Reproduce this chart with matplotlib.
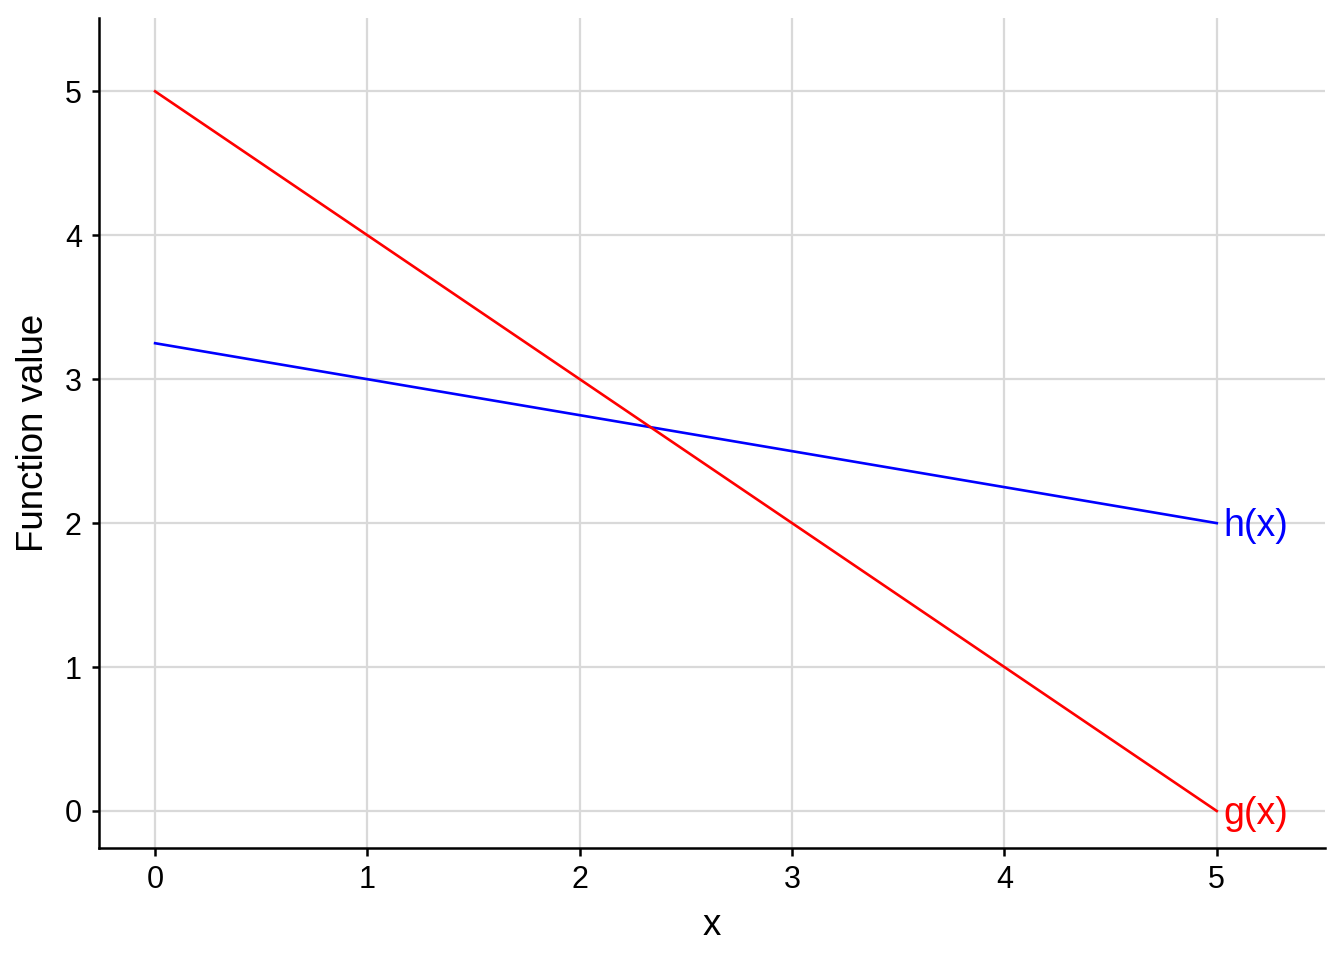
import matplotlib.pyplot as plt

plt.rcParams['font.family'] = ['Liberation Sans', 'DejaVu Sans']

# --- Data ---
x = [0, 1, 2, 3, 4, 5]
g = [5, 4, 3, 2, 1, 0]
h = [3.25, 3.0, 2.75, 2.5, 2.25, 2.0]

fig = plt.figure(figsize=(6.72, 4.8), dpi=200)
ax = fig.add_axes([0.0737, 0.1167, 0.9122, 0.8646])

ax.plot(x, h, color='blue', lw=0.95)
ax.plot(x, g, color='red', lw=0.95)

# end labels
ax.annotate("h(x)", (x[-1], h[-1]), xytext=(2.5, -1), textcoords='offset points',
            color='blue', fontsize=13.5, va='center', ha='left')
ax.annotate("g(x)", (x[-1], g[-1]), xytext=(2.5, -1), textcoords='offset points',
            color='red', fontsize=13.5, va='center', ha='left')

ax.set_xlim(-0.264, 5.51)
ax.set_ylim(-0.257, 5.51)
ax.set_xticks(range(6))
ax.set_yticks(range(6))
ax.grid(True, color='#d9d9d9', lw=0.8)
ax.set_axisbelow(True)

for side in ['top', 'right']:
    ax.spines[side].set_visible(False)
for side in ['left', 'bottom']:
    ax.spines[side].set_linewidth(0.9)

ax.tick_params(labelsize=11, length=2.7, width=0.9, pad=3.5)
ax.set_xlabel("x", fontsize=13.2, labelpad=4.5)
ax.set_ylabel("Function value", fontsize=13.2, labelpad=5)

fig.savefig("out.png", dpi=200)
